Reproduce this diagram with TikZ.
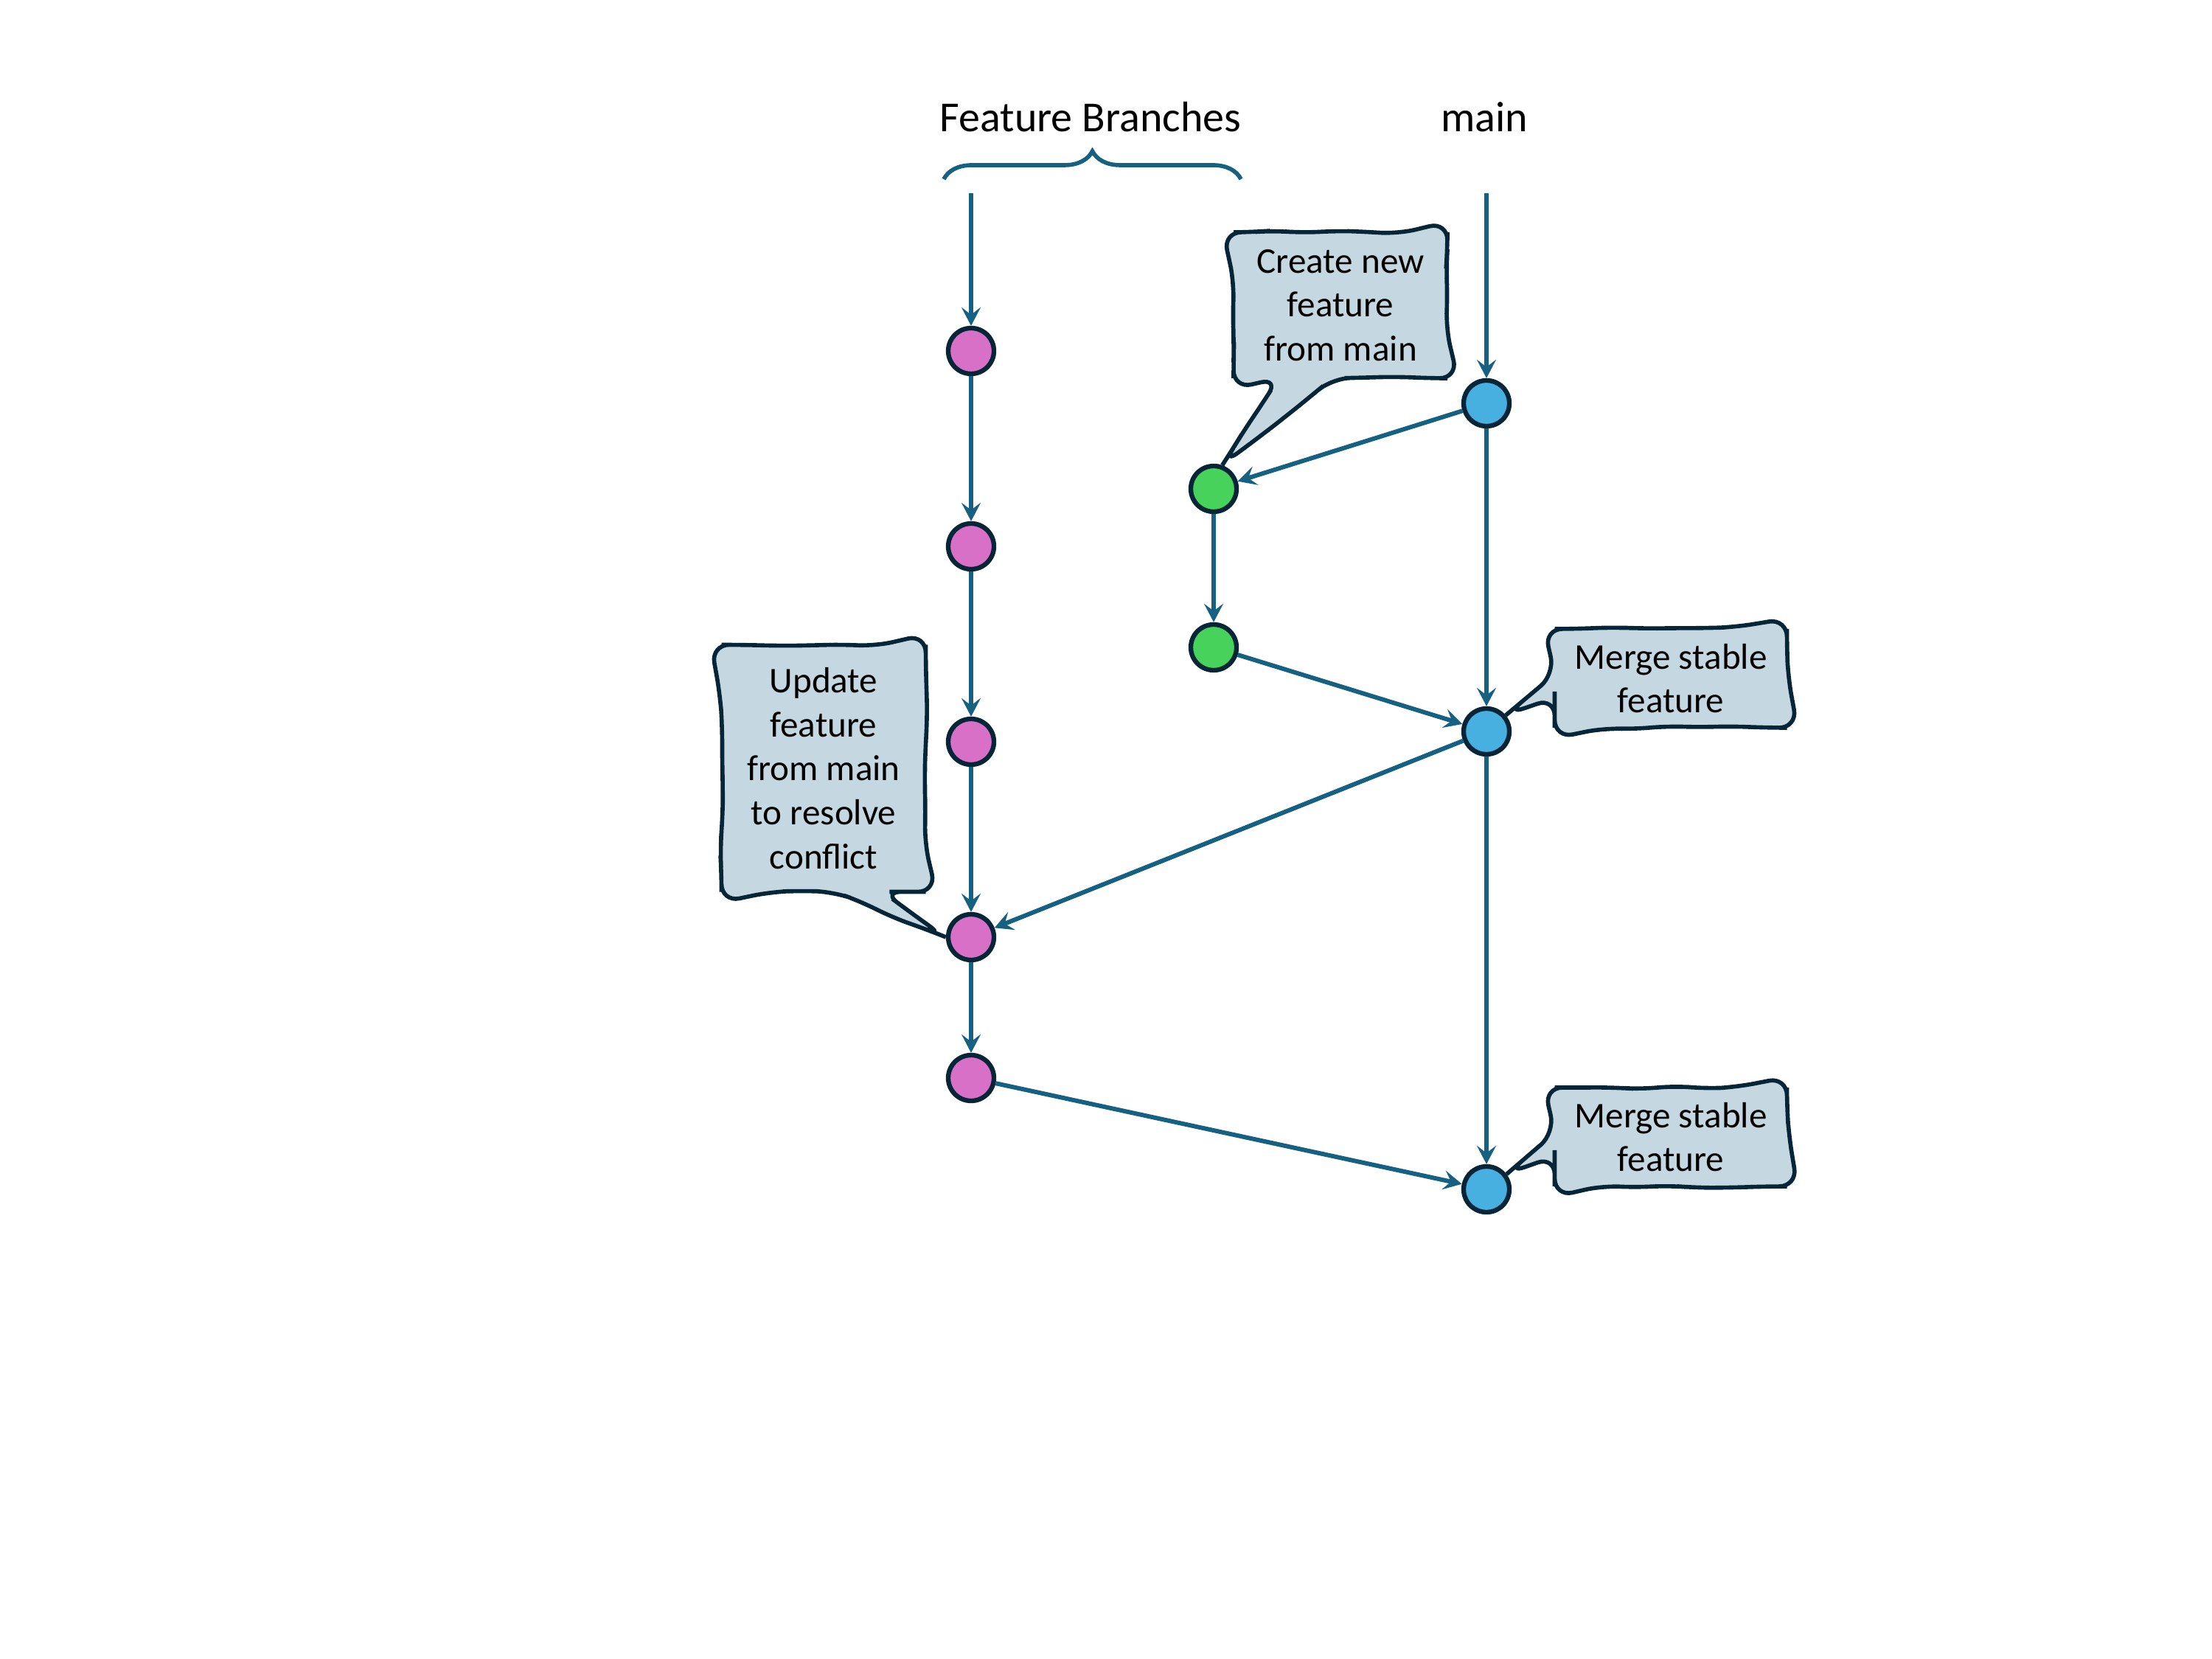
\documentclass[tikz,border=0pt]{standalone}
\usepackage{fontspec}
\setmainfont{Carlito}
\usetikzlibrary{arrows.meta,shapes.callouts,decorations.pathmorphing,decorations.pathreplacing}
\definecolor{ink}{RGB}{6,38,56}
\definecolor{linkblue}{RGB}{22,96,130}
\definecolor{fpink}{RGB}{216,112,200}
\definecolor{fgreen}{RGB}{71,211,91}
\definecolor{mblue}{RGB}{71,176,224}
\definecolor{notefill}{RGB}{197,216,226}
\tikzset{
  title/.style={anchor=base, font=\fontsize{16.5pt}{20pt}\selectfont},
  commit/.style={circle, draw=ink, line width=1.8pt, minimum size=0.62cm, inner sep=0pt},
  fcommit/.style={commit, fill=fpink},
  gcommit/.style={commit, fill=fgreen},
  mcommit/.style={commit, fill=mblue},
  link/.style={draw=linkblue, line width=1.7pt, -{Stealth[length=0.25cm, width=0.26cm, inset=0.1cm]}},
  note/.style={rectangle callout, draw=ink, fill=notefill, line width=1.6pt,
    align=center, inner sep=0pt, font=\fontsize{14pt}{17pt}\selectfont,
    decorate, decoration={random steps, segment length=12pt, amplitude=0.8pt},
    rounded corners=7pt}
}
\begin{document}
\begin{tikzpicture}
      \pgfmathsetseed{11}
      \useasboundingbox (0,0) rectangle (30,-22.5);
      \draw
        (14.79,-1.79) node[title] (fb){Feature Branches}
        (20.13,-1.79) node[title] (mn){main}
        (13.17,-4.76) node[fcommit] (f1){}
        (13.17,-7.41) node[fcommit] (f2){}
        (13.17,-10.06) node[fcommit] (f3){}
        (13.17,-12.71) node[fcommit] (f4){}
        (13.17,-14.62) node[fcommit] (f5){}
        (16.46,-6.63) node[gcommit] (g1){}
        (16.46,-8.78) node[gcommit] (g2){}
        (20.16,-5.47) node[mcommit] (m1){}
        (20.16,-9.92) node[mcommit] (m2){}
        (20.16,-16.13) node[mcommit] (m3){};
      \coordinate (ftop) at (13.17,-2.62);
      \coordinate (mtop) at (20.16,-2.62);
      \draw[linkblue, line width=1.6pt, decorate, decoration={brace, amplitude=0.38cm}]
        (12.80,-2.43) -- (16.83,-2.43);
      \begin{scope}[link]
        \draw (ftop) to (f1);
        \draw (f1) to (f2);
        \draw (f2) to (f3);
        \draw (f3) to (f4);
        \draw (f4) to (f5);
        \draw (mtop) to (m1);
        \draw (m1) to (g1);
        \draw (g1) to (g2);
        \draw (g2) to (m2);
        \draw (m1) to (m2);
        \draw (m2) to (f4);
        \draw (m2) to (m3);
        \draw (f5) to (m3);
      \end{scope}
      \node[note, minimum width=2.9cm, minimum height=1.98cm,
        callout absolute pointer={(g1.70)}, callout pointer width=0.73cm]
        (n1) at (18.18,-4.14) {Create new\\feature\\from main};
      \node[note, minimum width=2.77cm, minimum height=3.35cm,
        callout absolute pointer={(f4.west)}, callout pointer width=0.67cm]
        (n2) at (11.17,-10.42) {Update\\feature\\from main\\to resolve\\conflict};
      \node[note, minimum width=3.15cm, minimum height=1.34cm,
        callout absolute pointer={(m2.40)}, callout pointer width=0.32cm]
        (n3) at (22.66,-9.20) {Merge stable\\feature};
      \node[note, minimum width=3.15cm, minimum height=1.34cm,
        callout absolute pointer={(m3.37)}, callout pointer width=0.32cm]
        (n4) at (22.66,-15.42) {Merge stable\\feature};
    \end{tikzpicture}
\end{document}
